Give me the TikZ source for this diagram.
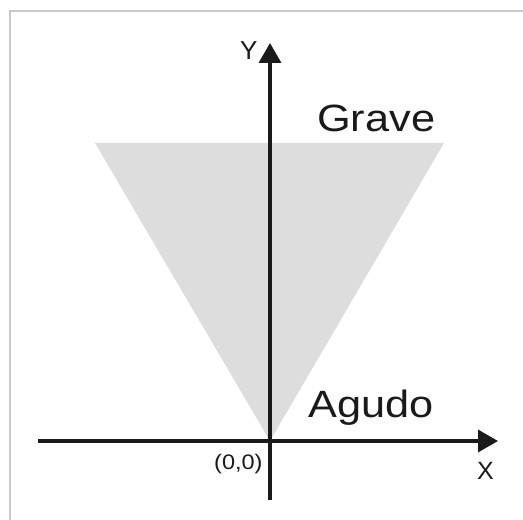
\documentclass[tikz,border=0pt]{standalone}
\usepackage{fontspec}
\setmainfont{Liberation Sans}
\usetikzlibrary{arrows.meta}
\definecolor{axiscol}{RGB}{26,26,26}
\definecolor{fillgray}{RGB}{221,221,221}
\definecolor{framegray}{RGB}{200,200,200}
\begin{document}
\begin{tikzpicture}[x=1pt,y=1pt,
  axis/.style={draw=axiscol,line width=3.5pt,-{Triangle[length=20pt,width=22pt]}},
  lbl/.style={inner sep=0pt,anchor=base west,text=axiscol},
  bigtxt/.style={lbl,font=\fontsize{38}{40}\selectfont,xscale=1.14,transform shape}]
\useasboundingbox (0,0) rectangle (523,520);
\fill[white] (0,0) rectangle (523,520);
\draw[framegray,line width=1.5pt] (10,0) -- (10,509) -- (523,509);
\coordinate (O) at (270,79);
\coordinate (tl) at (95,377);
\coordinate (tr) at (444,377);
\fill[fillgray] (O) -- (tl) -- (tr) -- cycle;
\coordinate (xs) at (38,79);
\coordinate (xe) at (498,79);
\coordinate (ys) at (270,20);
\coordinate (ye) at (270,477);
\draw[axis] (xs) -- (xe);
\draw[axis] (ys) -- (ye);
\node[lbl,font=\fontsize{26}{28}\selectfont] (ylab) at (240,460) {Y};
\node[lbl,font=\fontsize{25}{28}\selectfont] (xlab) at (477,40) {X};
\node[lbl,font=\fontsize{21}{24}\selectfont,xscale=1.12,transform shape] (olab) at (214,50) {(0,0)};
\node[bigtxt] (grave) at (317,388) {Grave};
\node[bigtxt] (agudo) at (308,102) {Agudo};
\end{tikzpicture}
\end{document}
